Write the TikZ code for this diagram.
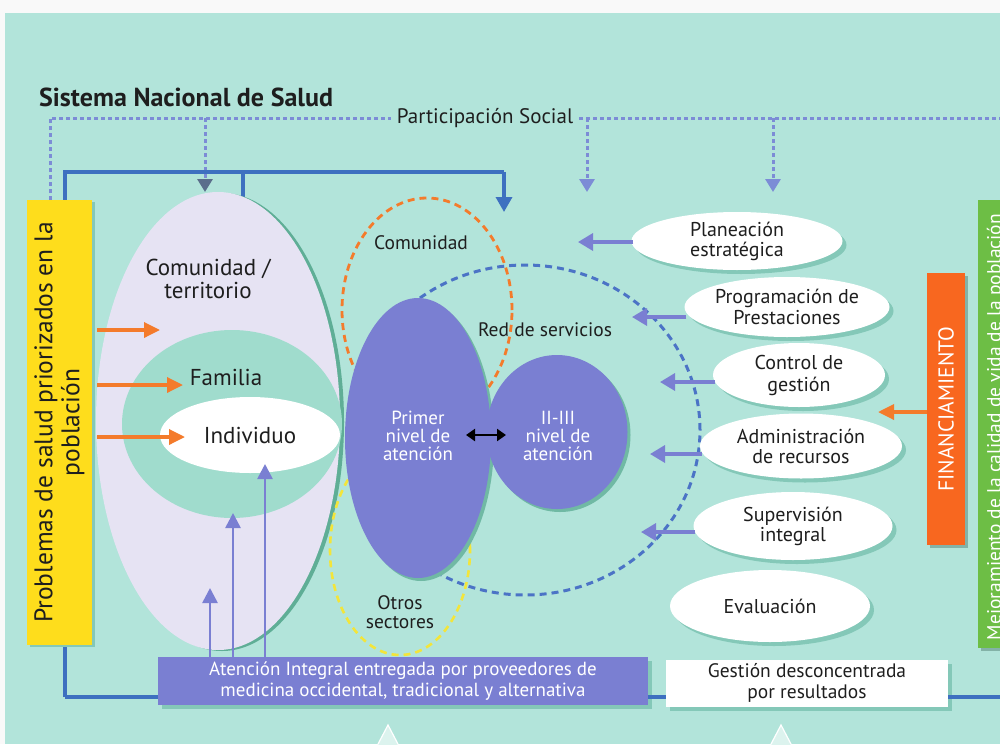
\documentclass[tikz,border=0pt]{standalone}
\usepackage{fontspec}
\setmainfont{PT Sans}
\usetikzlibrary{shapes.geometric,arrows.meta,calc}
\definecolor{bgc}{HTML}{B2E4DA}
\definecolor{lav}{HTML}{E6E3F3}
\definecolor{rimc}{HTML}{5FAE96}
\definecolor{tealc}{HTML}{A0DCCD}
\definecolor{peri}{HTML}{7A7FD2}
\definecolor{loopc}{HTML}{3D70C0}
\definecolor{redc}{HTML}{4B73C6}
\definecolor{pdc}{HTML}{7C8CD6}
\definecolor{orng}{HTML}{F47B2B}
\definecolor{orbar}{HTML}{F8671F}
\definecolor{yel}{HTML}{FEDD1C}
\definecolor{ydash}{HTML}{F3E53A}
\definecolor{grn}{HTML}{6DBE45}
\definecolor{shc}{HTML}{84C8B8}
\definecolor{txtc}{HTML}{1E1E1E}
\definecolor{darkarr}{HTML}{5B6E8C}
\newcommand{\fs}[2]{\fontsize{#1}{#2}\selectfont}
\begin{document}
\begin{tikzpicture}[x=1pt,y=-1pt,
  txt/.style={inner sep=0pt, text=txtc, align=center},
  shad/.style={preaction={fill=#1, transform canvas={xshift=4pt,yshift=-4pt}}},
  ell/.style={shape=ellipse, fill=white, inner sep=0pt, text=txtc, align=center, font=\fs{20}{20}, shad=shc},
  parr/.style={draw=peri, line width=3.4pt, -{Triangle[width=17pt,length=15pt]}},
  uarr/.style={draw=peri, line width=2.6pt, -{Triangle[width=15pt,length=15pt]}},
  oarr/.style={draw=orng, line width=3.4pt, -{Triangle[width=15pt,length=16pt]}},
  pdash/.style={draw=pdc, line width=3pt, dash pattern=on 4pt off 3pt},
  loopl/.style={draw=loopc, line width=3.4pt},
]
\useasboundingbox (0,0) rectangle (1000,744);
\clip (0,0) rectangle (1000,744);
\fill[white!95!gray] (0,0) rectangle (1000,744);
\fill[bgc] (5,13) rectangle (1000,744);

% title and participation
\node[txt, font=\bfseries\fs{26}{27}, anchor=west] (title) at (39,97) {Sistema Nacional de Salud};
\node[txt, font=\fs{21}{22}] (ps) at (485,118) {Participación Social};
\coordinate (pL) at (50,200);
\coordinate (pLc) at (50,118);
\coordinate (pR) at (1000,118);
\draw[pdash] (pL) -- (pLc) -- ([xshift=-6pt]ps.west);
\draw[pdash] ([xshift=6pt]ps.east) -- (pR);
\coordinate (d1) at (205,118); \coordinate (a1) at (205,192);
\coordinate (d2) at (587,118); \coordinate (a2) at (587,192);
\coordinate (d3) at (773,118); \coordinate (a3) at (773,192);
\draw[pdash, -{Triangle[width=15pt,length=13pt,color=darkarr]}] (d1) -- (a1);
\draw[pdash, -{Triangle[width=15pt,length=13pt]}] (d2) -- (a2);
\draw[pdash, -{Triangle[width=15pt,length=13pt]}] (d3) -- (a3);

% blue loop
\coordinate (lp) at (65,697);
\coordinate (lt) at (65,172);
\coordinate (lb) at (243,172);
\coordinate (lbe) at (243,197);
\coordinate (lc) at (504,172);
\coordinate (la) at (504,212);
\coordinate (lr) at (1000,697);
\draw[loopl] (lp) -- (lt) -- (lc);
\draw[loopl, -{Triangle[width=16pt,length=15pt]}] (lc) -- (la);
\draw[loopl] (lb) -- (lbe);

% community ellipses
\node[shape=ellipse, fill=lav, minimum width=244pt, minimum height=458pt, inner sep=0pt,
  preaction={fill=rimc, transform canvas={xshift=4pt,yshift=-1pt}}] (com) at (218,421) {};
\node[shape=ellipse, fill=tealc, minimum width=220pt, minimum height=188pt, inner sep=0pt] (fam) at (232,424) {};
\node[shape=ellipse, fill=white, minimum width=180pt, minimum height=76pt, inner sep=0pt, text=txtc, font=\fs{23}{23}] (ind) at (250,435) {Individuo};
\node[txt, font=\fs{23}{23}] (comt) at (208,279) {Comunidad /\\territorio};
\node[txt, font=\fs{23}{23}] (famt) at (226,377) {Familia};

% dashed ellipses
\draw[orng, line width=2.8pt, dash pattern=on 7pt off 5pt] (427,310) ellipse [x radius=85pt, y radius=112pt];
\draw[ydash, line width=2.6pt, dash pattern=on 7pt off 5pt] (400,550) ellipse [x radius=70pt, y radius=105pt];
\draw[redc, line width=3pt, dash pattern=on 7pt off 5pt] (525,430) ellipse [x radius=175pt, y radius=165pt];
\node[txt, font=\fs{19.5}{20}] (comu) at (421,243) {Comunidad};
\node[txt, font=\fs{19.5}{20}] (red) at (545,330) {Red de servicios};
\node[txt, font=\fs{19.5}{19}] (otros) at (400,612) {Otros\\sectores};

% service levels
\node[shape=ellipse, fill=peri, minimum width=146pt, minimum height=280pt, inner sep=0pt,
  preaction={fill=rimc!80!bgc, transform canvas={xshift=3pt,yshift=-3pt}}] (prim) at (418,438) {};
\node[shape=ellipse, fill=peri, minimum width=141pt, minimum height=154pt, inner sep=0pt,
  preaction={fill=rimc!80!bgc, transform canvas={xshift=3pt,yshift=-3pt}}] (sec) at (557,432) {};
\node[txt, text=white, font=\fs{19}{18}] (primt) at (418,436) {Primer\\nivel de\\atención};
\node[txt, text=white, font=\fs{19}{18}] (sect) at (558,436) {II-III\\nivel de\\atención};
\coordinate (da1) at (466,435);
\coordinate (da2) at (506,435);
\draw[black, line width=2.8pt, {Triangle[width=12pt,length=9pt]}-{Triangle[width=12pt,length=9pt]}] (da1) -- (da2);

% management ellipses
\node[ell, minimum width=211pt, minimum height=58pt] (plan) at (737,241) {Planeación\\estratégica};
\node[ell, minimum width=205pt, minimum height=60pt, font=\fs{20}{21}] (prog) at (787,307) {Programación de\\Prestaciones};
\node[ell, minimum width=172pt, minimum height=64pt, font=\fs{20}{22}] (ctrl) at (799,375) {Control de\\gestión};
\node[ell, minimum width=202pt, minimum height=65pt] (admin) at (801,446) {Administración\\de recursos};
\node[ell, minimum width=199pt, minimum height=68pt] (sup) at (793,526) {Supervisión\\integral};
\node[ell, minimum width=200pt, minimum height=72pt] (eval) at (770,606) {Evaluación};
\coordinate (pa1) at (578,242);
\coordinate (pa2) at (632,317);
\coordinate (pa3) at (660,382);
\coordinate (pa4) at (650,454);
\coordinate (pa5) at (641,532);
\draw[parr] ([xshift=2pt]plan.west |- pa1) -- (pa1);
\draw[parr] ([xshift=2pt]prog.west |- pa2) -- (pa2);
\draw[parr] ([xshift=2pt]ctrl.west |- pa3) -- (pa3);
\draw[parr] ([xshift=2pt]admin.west |- pa4) -- (pa4);
\draw[parr] ([xshift=2pt]sup.west |- pa5) -- (pa5);

% side bars
\node[rotate=90, fill=yel, minimum width=445pt, minimum height=65pt, inner sep=0pt, text=txtc,
  font=\fs{25.5}{27}, align=center, preaction={fill=shc, transform canvas={xshift=3pt,yshift=-2pt}}] (prob) at (59.5,422.5) {Problemas de salud priorizados en la\\población};
\coordinate (o1) at (160,330);
\coordinate (o2) at (183,385);
\coordinate (o3) at (185,437);
\draw[oarr] ([xshift=5pt]prob.south |- o1) -- (o1);
\draw[oarr] ([xshift=5pt]prob.south |- o2) -- (o2);
\draw[oarr] ([xshift=5pt]prob.south |- o3) -- (o3);

\node[rotate=90, fill=orbar, minimum width=272pt, minimum height=38pt, inner sep=0pt, text=white,
  font=\fs{21.5}{22}, preaction={fill=shc!70!gray, transform canvas={xshift=3pt,yshift=-3pt}}] (fin) at (946,409) {FINANCIAMIENTO};
\coordinate (fa) at (878,412);
\draw[oarr] (fin.north |- fa) -- (fa);

\fill[shc!70!gray] (981,203) rectangle (1030,651);
\fill[grn] (978,200) rectangle (1030,648);
\node[rotate=90, inner sep=0pt, text=white, font=\fs{19.5}{20}] (mej) at (996,427) {Mejoramiento de la calidad de vida de la población};

% bottom boxes
\node[fill=peri, minimum width=490pt, minimum height=48pt, inner sep=0pt, text=white, align=center,
  font=\fs{19}{21}, shad=shc] (aten) at (403,681) {Atención Integral entregada por proveedores de\\medicina occidental, tradicional y alternativa};
\node[fill=white, minimum width=282pt, minimum height=47pt, inner sep=0pt, text=txtc, align=center,
  font=\fs{19.5}{21}, shad=shc] (gest) at (807,683) {Gestión desconcentrada\\por resultados};
\draw[loopl] (lp) -- (aten.west |- lp);
\draw[loopl] (aten.east |- lp) -- (gest.west |- lp);
\draw[loopl] (gest.east |- lr) -- (lr);

\coordinate (t1) at (210,588);
\coordinate (t2) at (233,513);
\coordinate (t3) at (265,464);
\draw[uarr] (aten.north -| t1) -- (t1);
\draw[uarr] (aten.north -| t2) -- (t2);
\draw[uarr] (aten.north -| t3) -- (t3);

% bottom triangles
\draw[white, line width=1.2pt, fill=white!55!bgc] (388,725) -- (377,746) -- (399,746) -- cycle;
\draw[white, line width=1.2pt, fill=white!55!bgc] (781,725) -- (770,746) -- (792,746) -- cycle;
\end{tikzpicture}
\end{document}
